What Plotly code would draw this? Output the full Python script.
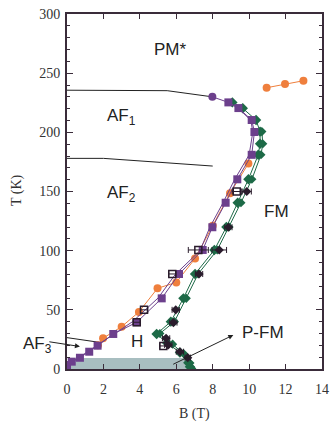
import plotly.graph_objects as go

# ---------------- data ----------------
purple_B = [0.0, 0.26, 0.71, 1.22, 1.68, 2.54, 3.83, 5.2, 6.15, 7.45, 7.98, 8.71, 9.35, 10.14, 10.29, 10.14, 9.41, 8.86]
purple_T = [3.4, 6.2, 9.5, 14.6, 19.7, 29.6, 39.5, 59.7, 80.3, 100.6, 119.8, 140.5, 160.3, 181.0, 200.3, 210.4, 220.5, 225.3]
purple2_B = [0.0, 1.7, 3.6, 5.0, 5.95, 7.3, 7.85, 8.55, 9.2, 10.0, 10.2, 10.1, 9.4, 8.86, 7.98]
purple2_T = [3.0, 20.5, 40.0, 60.0, 80.0, 100.0, 120.0, 140.0, 160.0, 181.0, 200.0, 210.0, 220.5, 225.3, 230.0]
purple_circle_B = [7.98]
purple_circle_T = [230.0]

orange_B = [1.7, 1.98, 3.0, 3.95, 4.97, 6.0, 7.03, 8.0, 8.95, 9.96]
orange_T = [20.0, 26.0, 35.8, 48.2, 68.2, 73.2, 93.3, 121.0, 148.5, 173.6]
orange_hi_B = [10.96, 11.97, 12.98]
orange_hi_T = [237.7, 240.8, 243.6]

green1_B = [6.75, 6.66, 6.2, 5.5, 4.92, 5.7, 6.39, 7.03, 8.09, 8.75, 9.37, 9.96, 10.5, 10.6, 10.6, 10.38, 9.65, 9.08]
green1_T = [1.8, 5.3, 14.0, 22.0, 29.6, 40.0, 59.7, 80.3, 100.6, 120.0, 140.5, 160.3, 181.0, 190.3, 200.6, 210.4, 220.3, 225.3]
green2_B = [6.85, 6.75, 6.4, 5.8, 5.1, 5.9, 6.55, 7.2, 8.25, 8.9, 9.55, 10.15, 10.65, 10.75, 10.7]
green2_T = [0.5, 5.0, 13.0, 21.0, 30.0, 40.0, 59.7, 80.3, 100.6, 120.0, 140.5, 160.3, 181.0, 190.3, 200.6]

black_B = [6.63, 6.2, 5.56, 5.44, 5.84, 5.97, 7.25, 8.36, 8.86, 9.87]
black_T = [9.6, 14.6, 20.3, 26.0, 39.2, 50.0, 80.3, 100.6, 119.8, 150.0]
black_err = [0.15, 0.2, 0.2, 0.2, 0.2, 0.2, 0.2, 0.4, 0.2, 0.25]

open_B = [5.29, 3.83, 4.23, 5.78, 7.21, 9.32]
open_T = [19.5, 39.5, 50.0, 80.3, 100.6, 150.0]
open_err = [0.2, 0.2, 0.2, 0.2, 0.55, 0.25]

# phase boundaries (black lines)
af1_B = [0.0, 5.5, 7.98]
af1_T = [235.6, 235.2, 230.0]
af2_B = [0.0, 2.0, 8.0]
af2_T = [178.0, 178.0, 171.5]
af3_B = [0.0, 1.75]
af3_T = [26.5, 22.6]

# shaded P-FM region
shade_B = [0.0, 0.0, 0.5, 6.65, 6.65, 0.0]
shade_T = [0.0, 5.0, 9.3, 9.3, 0.0, 0.0]

PURPLE = "#6c3f8c"
ORANGE = "#ef7f3d"
GREEN = "#1d6a47"
DARK = "#2a1c2c"

fig = go.Figure()

fig.add_trace(go.Scatter(x=shade_B, y=shade_T, fill="toself", fillcolor="#a8bec0",
                         line=dict(width=0), mode="lines", hoverinfo="skip"))

for bx, by in [(af1_B, af1_T), (af2_B, af2_T), (af3_B, af3_T)]:
    fig.add_trace(go.Scatter(x=bx, y=by, mode="lines", line=dict(color="#222", width=1)))

fig.add_trace(go.Scatter(x=orange_B, y=orange_T, mode="lines+markers",
                         line=dict(color=ORANGE, width=1),
                         marker=dict(symbol="circle", size=8, color=ORANGE)))
fig.add_trace(go.Scatter(x=orange_hi_B, y=orange_hi_T, mode="lines+markers",
                         line=dict(color=ORANGE, width=1),
                         marker=dict(symbol="circle", size=8, color=ORANGE)))

fig.add_trace(go.Scatter(x=green2_B, y=green2_T, mode="lines+markers",
                         line=dict(color=GREEN, width=1),
                         marker=dict(symbol="diamond", size=7, color=GREEN)))
fig.add_trace(go.Scatter(x=green1_B, y=green1_T, mode="lines+markers",
                         line=dict(color=GREEN, width=1),
                         marker=dict(symbol="diamond", size=8, color=GREEN)))

fig.add_trace(go.Scatter(x=purple2_B, y=purple2_T, mode="lines",
                         line=dict(color=PURPLE, width=1)))
fig.add_trace(go.Scatter(x=purple_B, y=purple_T, mode="lines+markers",
                         line=dict(color=PURPLE, width=1),
                         marker=dict(symbol="square", size=8, color=PURPLE)))
fig.add_trace(go.Scatter(x=purple_circle_B, y=purple_circle_T, mode="markers",
                         marker=dict(symbol="circle", size=8, color=PURPLE)))

fig.add_trace(go.Scatter(x=black_B, y=black_T, mode="markers",
                         marker=dict(symbol="diamond", size=7, color=DARK),
                         error_x=dict(type="data", array=black_err, color=DARK, thickness=1, width=3)))
fig.add_trace(go.Scatter(x=open_B, y=open_T, mode="markers",
                         marker=dict(symbol="square-open", size=7, color=DARK, line=dict(width=1.5)),
                         error_x=dict(type="data", array=open_err, color=DARK, thickness=1, width=3)))

LBL = dict(family="Liberation Sans, Arial, sans-serif", size=17, color="#222")
TICKF = dict(family="Liberation Serif, Times New Roman, serif", size=14, color="#333")
ann = [
    dict(x=5.7, y=270, text="PM*"),
    dict(x=3.0, y=213, text="AF<sub>1</sub>"),
    dict(x=3.0, y=148, text="AF<sub>2</sub>"),
    dict(x=11.5, y=133, text="FM"),
    dict(x=3.85, y=23, text="H"),
    dict(x=10.75, y=30.5, text="P-FM"),
]
annotations = [dict(a, xref="x", yref="y", showarrow=False, font=LBL,
                    xanchor="center", yanchor="middle") for a in ann]
annotations.append(dict(x=-0.114, y=(369 - 345) / 355, xref="paper", yref="paper",
                        xanchor="center", yanchor="middle",
                        text="AF<sub>3</sub>", showarrow=False, font=LBL))
annotations.append(dict(x=0.71, y=19.0, xref="x", yref="y", text="", showarrow=True,
                        ax=-1.05, ay=23.2, axref="x", ayref="y",
                        arrowhead=2, arrowsize=1, arrowwidth=1, arrowcolor="#222"))
annotations.append(dict(x=9.13, y=28.7, xref="x", yref="y", text="", showarrow=True,
                        ax=5.75, ay=3.4, axref="x", ayref="y",
                        arrowhead=2, arrowsize=1, arrowwidth=1, arrowcolor="#222"))
# axis titles
annotations.append(dict(x=0.5, y=(369 - 414) / 355, xref="paper", yref="paper",
                        xanchor="center", yanchor="middle", text="B (T)",
                        showarrow=False, font=TICKF))
annotations.append(dict(x=(17 - 67) / 255, y=(369 - 190) / 355, xref="paper", yref="paper",
                        xanchor="center", yanchor="middle", text="T (K)", textangle=-90,
                        showarrow=False, font=TICKF))

fig.update_layout(
    width=330, height=422,
    margin=dict(l=67, r=8, t=14, b=53),
    paper_bgcolor="white", plot_bgcolor="white",
    showlegend=False,
    annotations=annotations,
    xaxis=dict(range=[0, 14], tickvals=[0, 2, 4, 6, 8, 10, 12, 14], ticks="inside", ticklen=5,
               tickcolor="#3a2c3a", mirror="allticks", showline=True, linecolor="#3a2c3a", linewidth=2,
               showgrid=False, zeroline=False, tickfont=TICKF, ticklabelstandoff=6,
               automargin=False),
    yaxis=dict(range=[0, 300], tickvals=[0, 50, 100, 150, 200, 250, 300], ticks="inside", ticklen=6,
               tickcolor="#3a2c3a", mirror="allticks", showline=True, linecolor="#3a2c3a", linewidth=2,
               showgrid=False, zeroline=False, tickfont=TICKF, ticklabelstandoff=2,
               minor=dict(dtick=10, ticks="inside", ticklen=3, tickcolor="#3a2c3a"),
               automargin=False),
)

fig.write_html("out.html")
